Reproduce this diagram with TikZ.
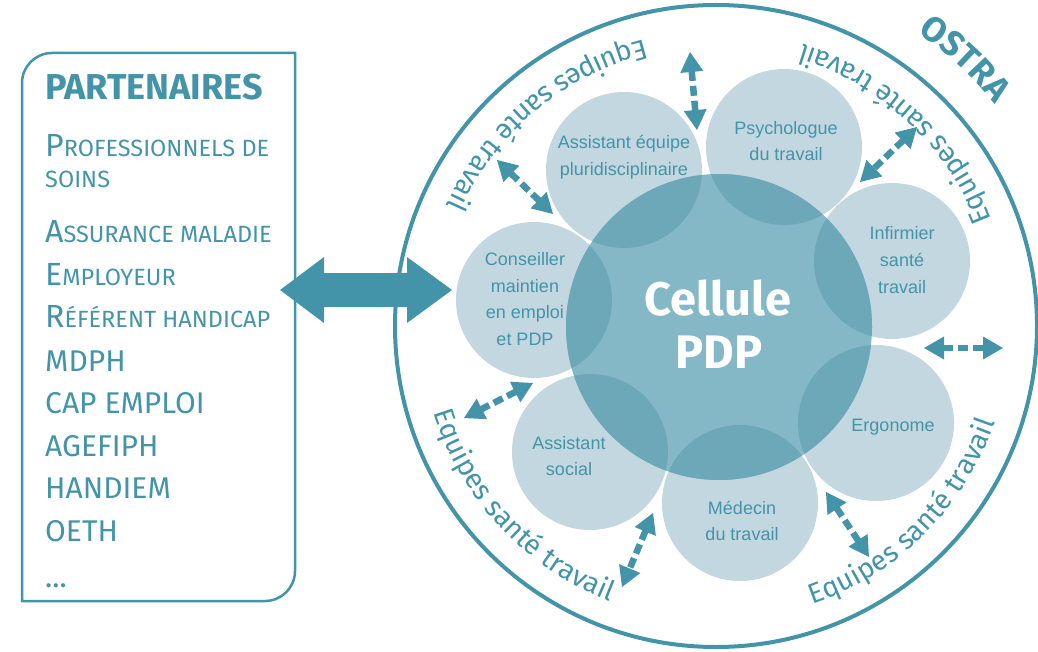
\documentclass[tikz,border=0pt]{standalone}
\usepackage{fontspec}
\setmainfont{Liberation Sans}
\newfontfamily\fira{Fira Sans}
\usetikzlibrary{arrows.meta,decorations.text,calc}
\definecolor{tealc}{HTML}{4394A8}
\definecolor{lightc}{HTML}{C2D7E0}
\definecolor{centc}{HTML}{85B8C6}
\definecolor{overc}{HTML}{6DA8B8}
\begin{document}
\begin{tikzpicture}[x=1pt,y=1pt,
  smallc/.style={circle, fill=lightc, minimum size=156pt, inner sep=0pt},
  lbl/.style={font=\fontsize{18}{26.8}\selectfont, text=tealc, align=center, inner sep=0pt},
  dashshaft/.style={draw=tealc, line width=6.5pt, dash pattern=on 10pt off 5pt},
  headfill/.style={fill=tealc},
  ptext/.style={anchor=base west, inner sep=0pt, text=tealc},
  arctext/.style={decorate, decoration={text along path, text align=center,
     text color=tealc, text={|\fira\fontsize{28}{28}\selectfont|Equipes santé travail}}}
]
\useasboundingbox (0,0) rectangle (1038,-652);
\coordinate (O) at (716,-326);

% outer circle
\node[circle, draw=tealc, line width=4pt, minimum size=642pt, inner sep=0pt] (outer) at (O) {};

% small circles
\node[smallc] (cons) at (534,-300) {};
\node[smallc] (ae)   at (624,-170) {};
\node[smallc] (psy)  at (784,-147) {};
\node[smallc] (inf)  at (892,-261) {};
\node[smallc] (erg)  at (876,-423) {};
\node[smallc] (med)  at (740,-503) {};
\node[smallc] (as)   at (590,-452) {};

% central circle
\node[circle, fill=centc, minimum size=306pt, inner sep=0pt] (cell) at (719,-327) {};
\begin{scope}
  \clip (cell.center) circle (153);
  \foreach \n in {cons,ae,psy,inf,erg,med,as} \fill[overc] (\n.center) circle (78);
\end{scope}

% labels
\node[lbl] (tae)  at (624,-157) {Assistant équipe\\pluridisciplinaire};
\node[lbl] (tpsy) at (786,-141) {Psychologue\\du travail};
\node[lbl] (tinf) at (902,-260) {Infirmier\\santé\\travail};
\node[lbl, anchor=base] (terg) at (893,-431) {Ergonome};
\node[lbl] (tmed) at (742,-521) {Médecin\\du travail};
\node[lbl] (tas)  at (569,-456) {Assistant\\social};
\node[lbl] (tcons) at (525,-299) {Conseiller\\maintien\\en emploi\\et PDP};

\node[anchor=base, inner sep=0pt, text=white, font=\fira\bfseries\fontsize{47}{47}\selectfont] (tcell) at (718,-315) {Cellule};
\node[anchor=base, inner sep=0pt, text=white, font=\fira\bfseries\fontsize{47}{47}\selectfont] (tpdp) at (719,-368) {PDP};

% arc texts
\path[arctext] ($(O)+(90:295)$) arc[start angle=90, end angle=170, radius=295];
\path[arctext] ($(O)+(7:295)$) arc[start angle=7, end angle=87, radius=295];
\path[arctext] ($(O)+(183:295)$) arc[start angle=183, end angle=263, radius=295];
\path[arctext] ($(O)+(-85:295)$) arc[start angle=-85, end angle=-5, radius=295];
\path[decorate, decoration={text along path, text align=center, text color=tealc,
   text={|\fira\bfseries\fontsize{35}{35}\selectfont|OSTRA}}]
   ($(O)+(72:356)$) arc[start angle=72, end angle=22, radius=356];

% dashed double arrows
\coordinate (a1s) at (690,-52);  \coordinate (a1e) at (697,-130);
\coordinate (a2s) at (497,-160); \coordinate (a2e) at (553,-214);
\coordinate (a3s) at (917,-127); \coordinate (a3e) at (860,-182);
\coordinate (a4s) at (924,-348); \coordinate (a4e) at (1003,-348);
\coordinate (a5s) at (826,-492); \coordinate (a5e) at (869,-557);
\coordinate (a6s) at (653,-513); \coordinate (a6e) at (622,-587);
\coordinate (a7s) at (533,-383); \coordinate (a7e) at (464,-418);
\foreach \i in {1,...,7} {
  \draw[dashshaft] ($(a\i s)!19pt!(a\i e)$) -- ($(a\i e)!19pt!(a\i s)$);
  \fill[headfill] (a\i s) -- ($(a\i s)!20pt!(a\i e)!11.5pt!90:(a\i e)$)
     -- ($(a\i s)!20pt!(a\i e)!11.5pt!-90:(a\i e)$) -- cycle;
  \fill[headfill] (a\i e) -- ($(a\i e)!20pt!(a\i s)!11.5pt!90:(a\i s)$)
     -- ($(a\i e)!20pt!(a\i s)!11.5pt!-90:(a\i s)$) -- cycle;
}

% partner box
\draw[tealc, line width=2.5pt] (22,-601) -- (22,-83) arc[start angle=180, end angle=90, radius=30]
  -- (295,-53) -- (295,-571) arc[start angle=0, end angle=-90, radius=30] -- cycle;
\node[ptext, font=\fira\bfseries\fontsize{36}{36}\selectfont] (p0) at (45,-100) {PARTENAIRES};
\newcommand{\Bg}{\fontsize{32}{32}\selectfont}
\newcommand{\Sm}{\fontsize{23.5}{23.5}\selectfont}
\newcommand{\Fc}{\fontsize{30}{30}\selectfont}
\node[ptext, font=\fira] (p1) at (45,-157) {{\Bg P}{\Sm ROFESSIONNELS DE}};
\node[ptext, font=\fira] (p2) at (45,-188) {{\Sm SOINS}};
\node[ptext, font=\fira] (p3) at (45,-243) {{\Bg A}{\Sm SSURANCE MALADIE}};
\node[ptext, font=\fira] (p4) at (45,-285) {{\Bg E}{\Sm MPLOYEUR}};
\node[ptext, font=\fira] (p5) at (45,-327) {{\Bg R}{\Sm ÉFÉRENT HANDICAP}};
\node[ptext, font=\fira\Fc] (p6) at (45,-371) {MDPH};
\node[ptext, font=\fira\Fc] (p7) at (45,-413) {CAP EMPLOI};
\node[ptext, font=\fira\Fc] (p8) at (45,-456) {AGEFIPH};
\node[ptext, font=\fira\Fc] (p9) at (45,-498) {HANDIEM};
\node[ptext, font=\fira\Fc] (p10) at (45,-541) {OETH};
\node[ptext, font=\fira\Fc] (p11) at (45,-587) {...};

% big double arrow
\coordinate (bigL) at (280,-290);
\coordinate (bigR) at (452,-290);
\fill[tealc] (bigL) -- ($(bigL)+(44,33)$) -- ($(bigL)+(44,17)$) -- ($(bigR)+(-45,17)$)
  -- ($(bigR)+(-45,33)$) -- (bigR) -- ($(bigR)+(-45,-33)$) -- ($(bigR)+(-45,-17)$)
  -- ($(bigL)+(44,-17)$) -- ($(bigL)+(44,-33)$) -- cycle;
\end{tikzpicture}
\end{document}
